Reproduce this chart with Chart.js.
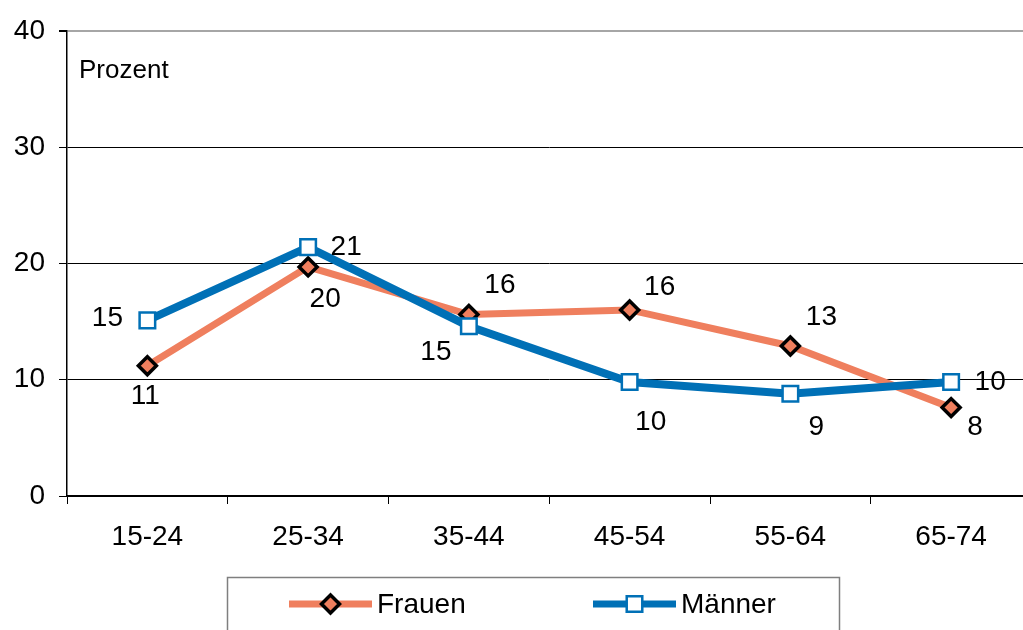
<!DOCTYPE html>
<html>
<head>
<meta charset="utf-8">
<script src="https://cdn.jsdelivr.net/npm/chart.js@4"></script>
<style>
  html, body { margin: 0; padding: 0; background: #fff; overflow: hidden; }
  #wrap { width: 1045px; height: 640px; }
  canvas { display: block; }
</style>
</head>
<body>
<div id="wrap"><canvas id="chart" width="1045" height="640"></canvas></div>
<script>
const categories = ['15-24', '25-34', '35-44', '45-54', '55-64', '65-74'];
const frauen = [11.2, 19.7, 15.6, 16.0, 12.9, 7.6];
const maenner = [15.1, 21.4, 14.6, 9.8, 8.8, 9.8];
const seriesNames = ['Frauen', 'Männer'];
const yMin = 0, yMax = 40, yStep = 10;
const unitLabel = 'Prozent';

const FONT = '"Liberation Sans", Arial, sans-serif';
const FS = 28;
const ORANGE = '#ef7f5e';
const BLUE = '#0070b6';

Chart.defaults.font.family = FONT;
Chart.defaults.font.size = FS;
Chart.defaults.color = '#000';

// where each value label sits relative to its point
const labelOffsets = [
    [[-2, 31], [17, 32], [31, -29], [30, -23], [31, -29], [24, 20]],
    [[-40, -2], [38, 0], [-33, 26], [21, 40], [26, 34], [39, 0]]
];

const valueLabels = {
    id: 'valueLabels',
    afterDatasetsDraw(chart) {
        const ctx = chart.ctx;
        ctx.save();
        ctx.font = FS + 'px ' + FONT;
        ctx.fillStyle = '#000';
        ctx.textAlign = 'center';
        ctx.textBaseline = 'middle';
        chart.data.datasets.forEach((ds, i) => {
            let meta = chart.getDatasetMeta(i);
            meta.data.forEach((pt, j) => {
                let off = labelOffsets[i][j];
                ctx.fillText(String(Math.round(ds.data[j])), pt.x + off[0], pt.y + off[1]);
            });
        });
        // unit note inside the plot
        ctx.font = '26px ' + FONT;
        ctx.textAlign = 'left';
        ctx.fillText(unitLabel, 79, 71);
        ctx.restore();
    }
};

const boxLegend = {
    id: 'boxLegend',
    afterDraw(chart) {
        const ctx = chart.ctx;
        ctx.save();
        ctx.strokeStyle = '#7f7f7f';
        ctx.lineWidth = 1.5;
        ctx.strokeRect(227.5, 577.5, 612, 80);

        let items = [{ x: 289, text: 'Frauen' }, { x: 593, text: 'Männer' }];
        items.forEach((it, i) => {
            let ds = chart.data.datasets[i];
            let y = 604;
            ctx.strokeStyle = ds.borderColor;
            ctx.lineWidth = 7;
            ctx.beginPath();
            ctx.moveTo(it.x, y);
            ctx.lineTo(it.x + 83, y);
            ctx.stroke();

            ctx.fillStyle = ds.pointBackgroundColor;
            ctx.strokeStyle = ds.pointBorderColor;
            ctx.lineWidth = ds.pointBorderWidth;
            Chart.helpers.drawPoint(ctx, {
                pointStyle: ds.pointStyle,
                rotation: 0,
                radius: ds.pointRadius,
                borderWidth: ds.pointBorderWidth
            }, it.x + 41.5, y);

            ctx.fillStyle = '#000';
            ctx.font = FS + 'px ' + FONT;
            ctx.textAlign = 'left';
            ctx.textBaseline = 'middle';
            ctx.fillText(it.text, it.x + 88, y + 1);
        });
        ctx.restore();
    }
};

new Chart(document.getElementById('chart'), {
    type: 'line',
    data: {
        labels: categories,
        datasets: [{
            label: seriesNames[0],
            data: frauen,
            borderColor: ORANGE,
            borderWidth: 7,
            pointStyle: 'rectRot',
            pointRadius: 9,
            pointBackgroundColor: ORANGE,
            pointBorderColor: '#000',
            pointBorderWidth: 3.5,
            tension: 0,
            order: 1
        }, {
            label: seriesNames[1],
            data: maenner,
            borderColor: BLUE,
            borderWidth: 8,
            pointStyle: 'rect',
            pointRadius: 11,
            pointBackgroundColor: '#fff',
            pointBorderColor: BLUE,
            pointBorderWidth: 2.5,
            tension: 0,
            order: 0
        }]
    },
    options: {
        responsive: false,
        animation: false,
        layout: { padding: { top: 28, right: 1, bottom: 84, left: 0 } },
        scales: {
            x: {
                offset: true,
                grid: {
                    offset: true,
                    drawOnChartArea: false,
                    tickLength: 8,
                    tickColor: '#000'
                },
                border: { color: '#000', width: 1.5 },
                ticks: { padding: 16, color: '#000', font: { size: FS } },
                afterFit: s => { s.height = 60; }
            },
            y: {
                min: yMin,
                max: yMax,
                ticks: { stepSize: yStep, padding: 14, color: '#000', font: { size: FS } },
                grid: {
                    color: c => (c.tick && c.tick.value === yMax) ? '#a6a6a6' : '#000',
                    lineWidth: c => (c.tick && c.tick.value === yMax) ? 2 : 1,
                    tickLength: 8,
                    tickColor: '#000'
                },
                border: { color: '#000', width: 1.5 },
                afterFit: s => { s.width = 67; }
            }
        },
        plugins: {
            legend: { display: false },
            tooltip: { enabled: false }
        }
    },
    plugins: [valueLabels, boxLegend]
});
</script>
</body>
</html>
